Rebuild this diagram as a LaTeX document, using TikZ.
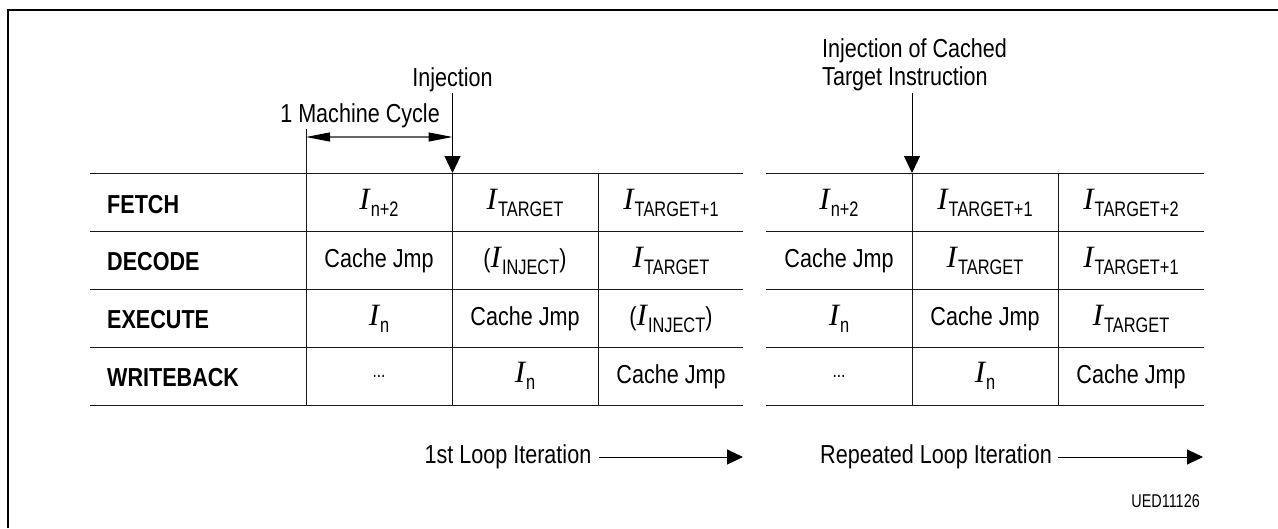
\documentclass[tikz,border=0pt]{standalone}
\usepackage{fontspec}
\setmainfont[FakeStretch=0.83]{Liberation Sans}
\newfontfamily\subfont[FakeStretch=0.78]{Liberation Sans}
\newfontfamily\ifont{Liberation Serif}
\usetikzlibrary{arrows.meta}
\newcommand{\Isub}[1]{{\fontsize{31}{31}\selectfont\ifont\itshape I}\kern1pt{\fontsize{21}{21}\selectfont\subfont\raisebox{-7pt}{#1}}}
\newcommand{\pIsub}[1]{{\fontsize{26}{26}\selectfont(}\Isub{#1}{\fontsize{26}{26}\selectfont)}}
\tikzset{
  x=1pt,y=-1pt,
  txt/.style={inner sep=0pt,anchor=base,font=\fontsize{26}{29}\selectfont,text=black},
  head/.style={inner sep=0pt,anchor=base west,text=black,font=\fontsize{26}{29}\selectfont\bfseries},
  cell/.style={inner sep=0pt,anchor=base,text=black,font=\fontsize{26}{29}\selectfont},
  dots/.style={inner sep=0pt,anchor=base,text=black,font=\fontsize{20}{22}\selectfont\subfont},
  rule/.style={line width=1pt,black!90},
  tip/.style={-{Triangle[length=17pt,width=16pt]},line width=1pt},
  tiph/.style={-{Triangle[length=16pt,width=15pt]},line width=1pt},
  dim/.style={{Triangle[length=24pt,width=9pt,black]}-{Triangle[length=24pt,width=9pt,black]},line width=1.2pt,black!60},
}
\begin{document}
\begin{tikzpicture}
\useasboundingbox (0,0) rectangle (1278,528);
\coordinate (fa) at (8,528); \coordinate (fb) at (8,10); \coordinate (fc) at (1278,10);
\draw[line width=2.2pt] (fa) -- (fb) -- (fc);
% table grid
\foreach \y in {173,231,289,347,405}{
  \draw[rule] (90,\y) -- (743,\y);
  \draw[rule] (766,\y) -- (1204,\y);
}
\foreach \x in {598,912,1058}{\draw[rule] (\x,173) -- (\x,405);}
\coordinate (ca) at (306,129); \coordinate (cb) at (306,405);
\coordinate (cc) at (452.5,93); \coordinate (cd) at (452.5,173); \coordinate (ce) at (452.5,405);
\coordinate (cf) at (912,93); \coordinate (cg) at (912,173);
\coordinate (d1) at (306,137); \coordinate (d2) at (452.5,137);
\coordinate (l1a) at (599,457); \coordinate (l1b) at (743,457);
\coordinate (l2a) at (1058,457); \coordinate (l2b) at (1203,457);
\draw[rule] (ca) -- (cb);
\draw[rule] (cd) -- (ce);
\draw[tip] (cc) -- (cd);
\draw[tip] (cf) -- (cg);
\draw[dim] (d1) -- (d2);
\draw[tiph] (l1a) -- (l1b);
\draw[tiph] (l2a) -- (l2b);
% upper labels
\node[txt] (inj) at (452.5,86) {Injection};
\node[txt,anchor=base east] (mc) at (440,122) {1 Machine Cycle};
\node[txt,anchor=base west] (ic1) at (822,57) {Injection of Cached};
\node[txt,anchor=base west] (ic2) at (822,85) {Target Instruction};
% row heads
\node[head] (r1) at (107,213) {FETCH};
\node[head] (r2) at (107,270.5) {DECODE};
\node[head] (r3) at (107,328.5) {EXECUTE};
\node[head] (r4) at (107,386.5) {WRITEBACK};
% table 1
\node[cell] (a11) at (379,209) {\Isub{n+2}};
\node[cell] (a12) at (525,209) {\Isub{TARGET}};
\node[cell] (a13) at (671,209) {\Isub{TARGET+1}};
\node[cell] (a21) at (379,267) {Cache Jmp};
\node[cell] (a22) at (525,267) {\pIsub{INJECT}};
\node[cell] (a23) at (671,267) {\Isub{TARGET}};
\node[cell] (a31) at (379,325) {\Isub{n}};
\node[cell] (a32) at (525,325) {Cache Jmp};
\node[cell] (a33) at (671,325) {\pIsub{INJECT}};
\node[dots] (a41) at (379,377) {...};
\node[cell] (a42) at (525,382.5) {\Isub{n}};
\node[cell] (a43) at (671,383) {Cache Jmp};
% table 2
\node[cell] (b11) at (839,209) {\Isub{n+2}};
\node[cell] (b12) at (985,209) {\Isub{TARGET+1}};
\node[cell] (b13) at (1131,209) {\Isub{TARGET+2}};
\node[cell] (b21) at (839,267) {Cache Jmp};
\node[cell] (b22) at (985,267) {\Isub{TARGET}};
\node[cell] (b23) at (1131,267) {\Isub{TARGET+1}};
\node[cell] (b31) at (839,325) {\Isub{n}};
\node[cell] (b32) at (985,325) {Cache Jmp};
\node[cell] (b33) at (1131,325) {\Isub{TARGET}};
\node[dots] (b41) at (839,377) {...};
\node[cell] (b42) at (985,382.5) {\Isub{n}};
\node[cell] (b43) at (1131,383) {Cache Jmp};
% bottom
\node[txt,anchor=base east] (it1) at (591.5,463) {1st Loop Iteration};
\node[txt,anchor=base east] (it2) at (1052,463) {Repeated Loop Iteration};
\node[inner sep=0pt,anchor=base east,font=\fontsize{18.5}{20}\selectfont\subfont] (ued) at (1200,507) {UED11126};
\end{tikzpicture}
\end{document}
